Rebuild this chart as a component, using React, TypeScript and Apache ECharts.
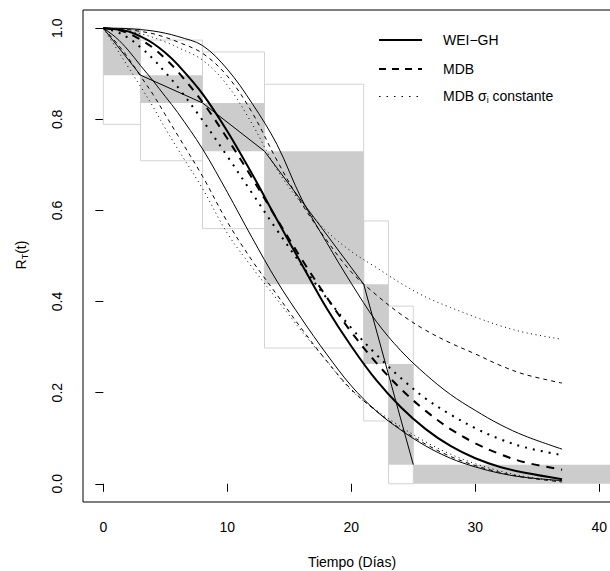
import React, { useEffect, useRef } from "react";
import * as echarts from "echarts";

// time grid for the smooth curves (days)
const T = [0, 1, 2, 3, 4, 5, 6, 8, 10, 12, 14, 16, 18, 20, 22, 24, 26, 28, 30, 32, 34, 37];

// WEI-GH: fit and bounds
const weiFit = [1, 0.998, 0.993, 0.982, 0.967, 0.946, 0.92, 0.856, 0.774, 0.68, 0.58, 0.482, 0.386, 0.302, 0.228, 0.168, 0.12, 0.083, 0.056, 0.037, 0.024, 0.01];
const weiUp = [1, 1.0, 0.999, 0.997, 0.994, 0.989, 0.982, 0.962, 0.91, 0.835, 0.745, 0.625, 0.53, 0.44, 0.357, 0.292, 0.24, 0.196, 0.161, 0.13, 0.105, 0.076];
const weiLo = [1, 0.98, 0.952, 0.918, 0.885, 0.85, 0.815, 0.735, 0.64, 0.54, 0.445, 0.362, 0.285, 0.215, 0.16, 0.118, 0.083, 0.056, 0.037, 0.023, 0.014, 0.007];

// MDB: fit and bounds
const mdbFit = [1, 0.997, 0.989, 0.975, 0.957, 0.933, 0.905, 0.838, 0.758, 0.671, 0.581, 0.493, 0.41, 0.333, 0.266, 0.208, 0.16, 0.12, 0.089, 0.065, 0.047, 0.031];
const mdbUp = [1, 0.999, 0.997, 0.993, 0.988, 0.98, 0.97, 0.945, 0.895, 0.815, 0.71, 0.615, 0.535, 0.465, 0.415, 0.372, 0.337, 0.309, 0.285, 0.26, 0.24, 0.221];
const mdbLo = [1, 0.97, 0.935, 0.895, 0.855, 0.81, 0.765, 0.675, 0.575, 0.49, 0.415, 0.34, 0.27, 0.207, 0.16, 0.12, 0.087, 0.06, 0.04, 0.025, 0.014, 0.004];

// MDB sigma_i constante: fit and bounds
const sigFit = [1, 0.993, 0.979, 0.958, 0.933, 0.903, 0.871, 0.798, 0.719, 0.638, 0.557, 0.48, 0.408, 0.342, 0.284, 0.232, 0.187, 0.152, 0.122, 0.098, 0.08, 0.063];
const sigUp = [1, 0.998, 0.994, 0.988, 0.98, 0.97, 0.958, 0.93, 0.875, 0.79, 0.69, 0.615, 0.555, 0.51, 0.475, 0.44, 0.41, 0.387, 0.366, 0.347, 0.332, 0.317];
const sigLo = [1, 0.958, 0.915, 0.872, 0.828, 0.78, 0.735, 0.648, 0.55, 0.475, 0.405, 0.335, 0.27, 0.205, 0.162, 0.125, 0.092, 0.065, 0.044, 0.028, 0.016, 0.005];

// empirical (step) estimate
const stepTimes = [0, 3, 8, 13, 21, 23, 25, 41];
const stepSurv = [1, 0.897, 0.836, 0.73, 0.438, 0.263, 0.042, 0];
const ciLower = [0.789, 0.709, 0.56, 0.298, 0.138, 0];
const ciUpper = [1.0, 0.974, 0.948, 0.877, 0.577, 0.39];

// polyline joining the empirical points
const polyT = [0, 3, 8, 13, 21, 25];
const polyS = [1, 0.897, 0.836, 0.73, 0.438, 0.042];

const xTicks = [0, 10, 20, 30, 40];
const yTicks = [0, 0.2, 0.4, 0.6, 0.8, 1.0];

const FONT = '"Liberation Sans", Arial, Helvetica, sans-serif';

function pairs(ys: number[]) {
  return T.map((t, i) => [t, ys[i]]);
}

export default function App() {
  const ref = useRef<HTMLDivElement>(null);
  useEffect(() => {
    if (!ref.current) return;
    const chart = echarts.init(ref.current, undefined, { renderer: "svg" });

    const fillData: number[][] = [];
    for (let i = 0; i < stepTimes.length - 1; i++) {
      fillData.push([stepTimes[i], stepTimes[i + 1], stepSurv[i + 1], stepSurv[i]]);
    }
    const ciData: number[][] = [];
    for (let i = 0; i < ciLower.length; i++) {
      ciData.push([stepTimes[i], stepTimes[i + 1], ciLower[i], ciUpper[i]]);
    }

    const rectRender = (fill: string, stroke: string) => (params: any, api: any) => {
      const p0 = api.coord([api.value(0), api.value(3)]);
      const p1 = api.coord([api.value(1), api.value(2)]);
      return {
        type: "rect",
        shape: { x: p0[0], y: p0[1], width: p1[0] - p0[0], height: p1[1] - p0[1] },
        style: { fill, stroke, lineWidth: 1 },
      };
    };

    const curve = (data: number[], width: number, dash: any) => ({
      type: "line",
      data: pairs(data),
      showSymbol: false,
      smooth: 0.35,
      lineStyle: { color: "#000", width, type: dash, cap: "butt" },
      silent: true,
      z: 3,
    });

    const option: any = {
      animation: false,
      grid: {
        left: 83,
        top: 10,
        width: 549,
        height: 492,
        show: true,
        borderColor: "#000",
        borderWidth: 1,
        backgroundColor: "transparent",
        containLabel: false,
        outerBoundsMode: "none",
      },
      xAxis: {
        type: "value",
        min: -1.64,
        max: 42.64,
        splitLine: { show: false },
        axisLine: { show: false },
        axisTick: { show: true, customValues: xTicks, length: 8, lineStyle: { color: "#000" } },
        axisLabel: {
          customValues: xTicks,
          fontSize: 14,
          fontFamily: FONT,
          color: "#000",
          margin: 18,
        },
      },
      yAxis: {
        type: "value",
        min: -0.04,
        max: 1.04,
        splitLine: { show: false },
        axisLine: { show: false },
        axisTick: { show: true, customValues: yTicks, length: 8, lineStyle: { color: "#000" } },
        axisLabel: {
          customValues: yTicks,
          fontSize: 14,
          fontFamily: FONT,
          color: "#000",
          rotate: 90,
          margin: 19,
          formatter: (v: number) => v.toFixed(1),
        },
      },
      series: [
        {
          type: "custom",
          data: ciData,
          encode: { x: [0, 1], y: [2, 3] },
          renderItem: rectRender("none", "#d3d3d3"),
          silent: true,
          z: 1,
        },
        {
          type: "custom",
          data: fillData,
          encode: { x: [0, 1], y: [2, 3] },
          renderItem: rectRender("#cccccc", "none"),
          silent: true,
          z: 2,
        },
        curve(sigLo, 1, [1, 3.5]),
        curve(sigUp, 1, [1, 3.5]),
        curve(mdbLo, 1, [4, 4]),
        curve(mdbUp, 1, [4, 4]),
        curve(weiLo, 1, "solid"),
        curve(weiUp, 1, "solid"),
        curve(sigFit, 2, [2, 6]),
        curve(mdbFit, 2, [8, 7]),
        curve(weiFit, 2, "solid"),
        {
          type: "line",
          data: polyT.map((t, i) => [t, polyS[i]]),
          showSymbol: false,
          lineStyle: { color: "#000", width: 1 },
          silent: true,
          z: 3,
        },
      ],
      graphic: [
        { type: "line", shape: { x1: 379, y1: 40, x2: 422, y2: 40 }, style: { stroke: "#000", lineWidth: 2 } },
        { type: "line", shape: { x1: 379, y1: 69, x2: 422, y2: 69 }, style: { stroke: "#000", lineWidth: 2, lineDash: [7, 6] } },
        { type: "line", shape: { x1: 379, y1: 96.5, x2: 422, y2: 96.5 }, style: { stroke: "#000", lineWidth: 1.2, lineDash: [1.5, 6] } },
        {
          type: "text",
          style: { text: "WEI−GH", x: 443, y: 40, font: `14px ${FONT}`, fill: "#000", verticalAlign: "middle" },
        },
        {
          type: "text",
          style: { text: "MDB", x: 443, y: 69, font: `14px ${FONT}`, fill: "#000", verticalAlign: "middle" },
        },
        {
          type: "text",
          style: {
            text: "{n|MDB σ}{s|i}{n| constante}",
            x: 443,
            y: 96,
            verticalAlign: "middle",
            rich: {
              n: { fontSize: 14, fontFamily: FONT, fill: "#000", lineHeight: 16, verticalAlign: "middle" },
              s: { fontSize: 9, fontFamily: FONT, fill: "#000", lineHeight: 9, verticalAlign: "bottom", padding: [6, 0, 0, 0] },
            },
          },
        },
        {
          type: "text",
          style: { text: "Tiempo (Días)", x: 352, y: 562, font: `14px ${FONT}`, fill: "#000", align: "center", verticalAlign: "middle" },
        },
        {
          type: "text",
          x: 21,
          y: 255,
          rotation: Math.PI / 2,
          style: {
            text: "{n|R}{s|T}{n|(t)}",
            x: 0,
            y: 0,
            align: "center",
            verticalAlign: "middle",
            rich: {
              n: { fontSize: 14, fontFamily: FONT, fill: "#000", lineHeight: 16, verticalAlign: "middle" },
              s: { fontSize: 9, fontFamily: FONT, fill: "#000", lineHeight: 9, verticalAlign: "bottom", padding: [6, 0, 0, 0] },
            },
          },
        },
      ],
    };
    chart.setOption(option);
    return () => chart.dispose();
  }, []);
  return (
    <div style={{ position: "absolute", left: 0, top: 0, width: 610, height: 571, overflow: "hidden", background: "#fff" }}>
      <div ref={ref} style={{ width: 640, height: 571 }} />
    </div>
  );
}
